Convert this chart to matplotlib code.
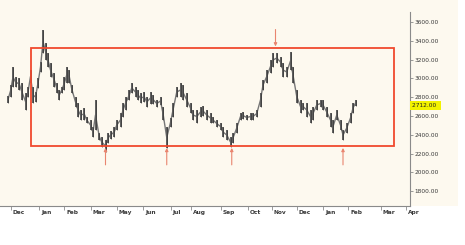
import matplotlib
matplotlib.use("Agg")
import matplotlib.pyplot as plt
from matplotlib.patches import Rectangle

# ---------------- data ----------------
# bar position in trading days from the first bar
days = [0, 2, 4, 6, 9, 11, 14, 16, 18, 20, 22, 24, 26, 28, 30, 32, 34, 37, 39, 41,
        43, 45, 47, 49, 51, 54, 56, 58, 61, 63, 66, 68, 70, 73, 75, 78, 80, 82, 85, 87,
        90, 92, 94, 97, 99, 102, 104, 106, 109, 111, 114, 116, 119, 122, 124, 127, 130, 132, 135, 138,
        140, 143, 146, 148, 151, 154, 156, 159, 162, 164, 167, 170, 172, 175, 178, 180, 183, 186, 188, 191,
        194, 196, 199, 202, 204, 207, 210, 212, 215, 218, 220, 223, 226, 228, 231, 234, 236, 239, 242, 244,
        247, 250, 252, 255, 258, 260, 263, 266, 268, 271, 274, 276, 278]
highs = [2813, 2930, 3121, 3015, 3004, 2951, 2845, 2908, 3089, 2908,
         2855, 3004, 3174, 3515, 3377, 3270, 3164, 3057, 2951, 2876,
         2908, 3015, 3121, 3089, 2930, 2802, 2738, 2664, 2685, 2589,
         2557, 2483, 2770, 2419, 2376, 2344, 2419, 2440, 2483, 2557,
         2632, 2738, 2802, 2876, 2951, 2908, 2876, 2845, 2855, 2802,
         2855, 2823, 2770, 2802, 2696, 2483, 2579, 2738, 2908, 2951,
         2930, 2845, 2738, 2664, 2664, 2696, 2706, 2664, 2632, 2589,
         2557, 2525, 2483, 2451, 2376, 2419, 2525, 2632, 2642, 2610,
         2632, 2632, 2664, 2845, 2983, 3089, 3196, 3270, 3270, 3228,
         3164, 3121, 3281, 3121, 2876, 2770, 2738, 2738, 2664, 2696,
         2770, 2770, 2770, 2696, 2632, 2557, 2664, 2557, 2451, 2525,
         2632, 2738, 2770]
lows = [2738, 2802, 2908, 2908, 2876, 2770, 2664, 2802, 2951, 2738,
        2749, 2898, 3068, 3270, 3196, 3121, 3015, 2908, 2845, 2770,
        2845, 2876, 2951, 2951, 2845, 2696, 2589, 2557, 2557, 2525,
        2451, 2376, 2451, 2344, 2270, 2217, 2313, 2355, 2376, 2451,
        2483, 2589, 2664, 2770, 2845, 2802, 2770, 2738, 2749, 2696,
        2728, 2728, 2696, 2717, 2557, 2259, 2483, 2589, 2802, 2802,
        2770, 2696, 2632, 2557, 2525, 2589, 2600, 2557, 2525, 2525,
        2483, 2451, 2376, 2344, 2270, 2313, 2419, 2557, 2568, 2557,
        2557, 2557, 2589, 2696, 2876, 2951, 3057, 3121, 3164, 3121,
        3015, 3015, 3089, 2951, 2738, 2632, 2664, 2589, 2525, 2557,
        2664, 2696, 2664, 2589, 2483, 2419, 2557, 2451, 2344, 2419,
        2525, 2632, 2706]

last_price = 2712
range_top = 3320
range_bottom = 2280
range_start_day = 18
range_end_day = 309
touch_high_days = [214]
touch_low_days = [78, 127, 179, 268]

month_tick_days = [2, 25, 45, 66, 87, 108, 130, 146, 170, 192, 211, 231, 252, 272, 298, 318]
month_labels = ['Dec', 'Jan', 'Feb', 'Mar', 'May', 'Jun', 'Jul', 'Aug', 'Sep',
                'Oct', 'Nov', 'Dec', 'Jan', 'Feb', 'Mar', 'Apr']
price_ticks = [3600, 3400, 3200, 3000, 2800, 2600, 2400, 2200, 2000, 1800]

# ---------------- drawing ----------------
W, H = 465, 245
fig = plt.figure(figsize=(W / 100, H / 100), dpi=100)
fig.patch.set_facecolor('white')
cream = '#fdf9ef'
bg = fig.add_axes([0, 1 - 206 / H, 458 / W, 206 / H], zorder=0)
bg.set_axis_off()
bg.add_patch(Rectangle((0, 0), 1, 1, transform=bg.transAxes, facecolor=cream,
                       edgecolor='none'))

ax = fig.add_axes([0, 1 - 206 / H, 410 / W, (206 - 12) / H], zorder=2)
ax.set_facecolor('none')
ax.set_xlim(-6.4, 321.6)
ax.set_ylim(3600 - (206 - 22) * 10.64, 3600 + 10 * 10.64)

# price bars (high-low) joined by a thin mid line for the dense daily look
mids = [(h + l) / 2 for h, l in zip(highs, lows)]
ax.plot(days, mids, color='#777777', lw=1.0, zorder=2.5)
ax.vlines(days, lows, highs, color='#5e5e5e', lw=1.4, zorder=3)
ax.vlines(days, lows, highs, color='#333333', lw=0.45, zorder=3)

# trading range box
ax.add_patch(Rectangle((range_start_day, range_bottom),
                       range_end_day - range_start_day, range_top - range_bottom,
                       facecolor='none', edgecolor='#f0492e', lw=1.3, zorder=4))

arrow_col = '#e9856f'
for d in touch_high_days:
    ax.annotate('', xy=(d, range_top + 20), xytext=(d, range_top + 200),
                arrowprops=dict(arrowstyle='-|>', color=arrow_col, lw=0.8,
                                mutation_scale=4.5, shrinkA=0, shrinkB=0), zorder=5)
for d in touch_low_days:
    ax.annotate('', xy=(d, range_bottom - 20), xytext=(d, range_bottom - 200),
                arrowprops=dict(arrowstyle='-|>', color=arrow_col, lw=0.8,
                                mutation_scale=4.5, shrinkA=0, shrinkB=0), zorder=5)

# axes styling
for s in ['top', 'left']:
    ax.spines[s].set_visible(False)
ax.spines['bottom'].set_color('#8a8a8a')
ax.spines['right'].set_color('#8a8a8a')
ax.spines['bottom'].set_linewidth(0.8)
ax.spines['right'].set_linewidth(0.8)

ax.yaxis.tick_right()
ax.set_yticks(price_ticks)
ax.set_yticklabels([f'{v:.2f}' for v in price_ticks])
ax.tick_params(axis='y', length=2, width=0.6, color='#8a8a8a', pad=1,
               labelsize=4.2, labelcolor='#3a3a3a')

ax.set_xticks(month_tick_days)
ax.set_xticklabels([])
ax.tick_params(axis='x', length=3, width=0.6, color='#8a8a8a', direction='out')
for d, lab in zip(month_tick_days, month_labels):
    ax.annotate(lab, xy=(d, 0), xycoords=('data', 'axes fraction'),
                xytext=(1.5, -3), textcoords='offset points',
                ha='left', va='top', fontsize=4.2, color='#3a3a3a',
                fontweight='bold', annotation_clip=False)

# last price flag
ax.annotate(f'{last_price:.2f}  ', xy=(1, last_price), xycoords=('axes fraction', 'data'),
            xytext=(1.2, 0), textcoords='offset points', ha='left', va='center',
            fontsize=4.2, color='#222222',
            bbox=dict(boxstyle='square,pad=0.3', facecolor='#f2f200', edgecolor='none'),
            annotation_clip=False, zorder=6)

fig.savefig('out.png', dpi=100, facecolor=fig.get_facecolor())
